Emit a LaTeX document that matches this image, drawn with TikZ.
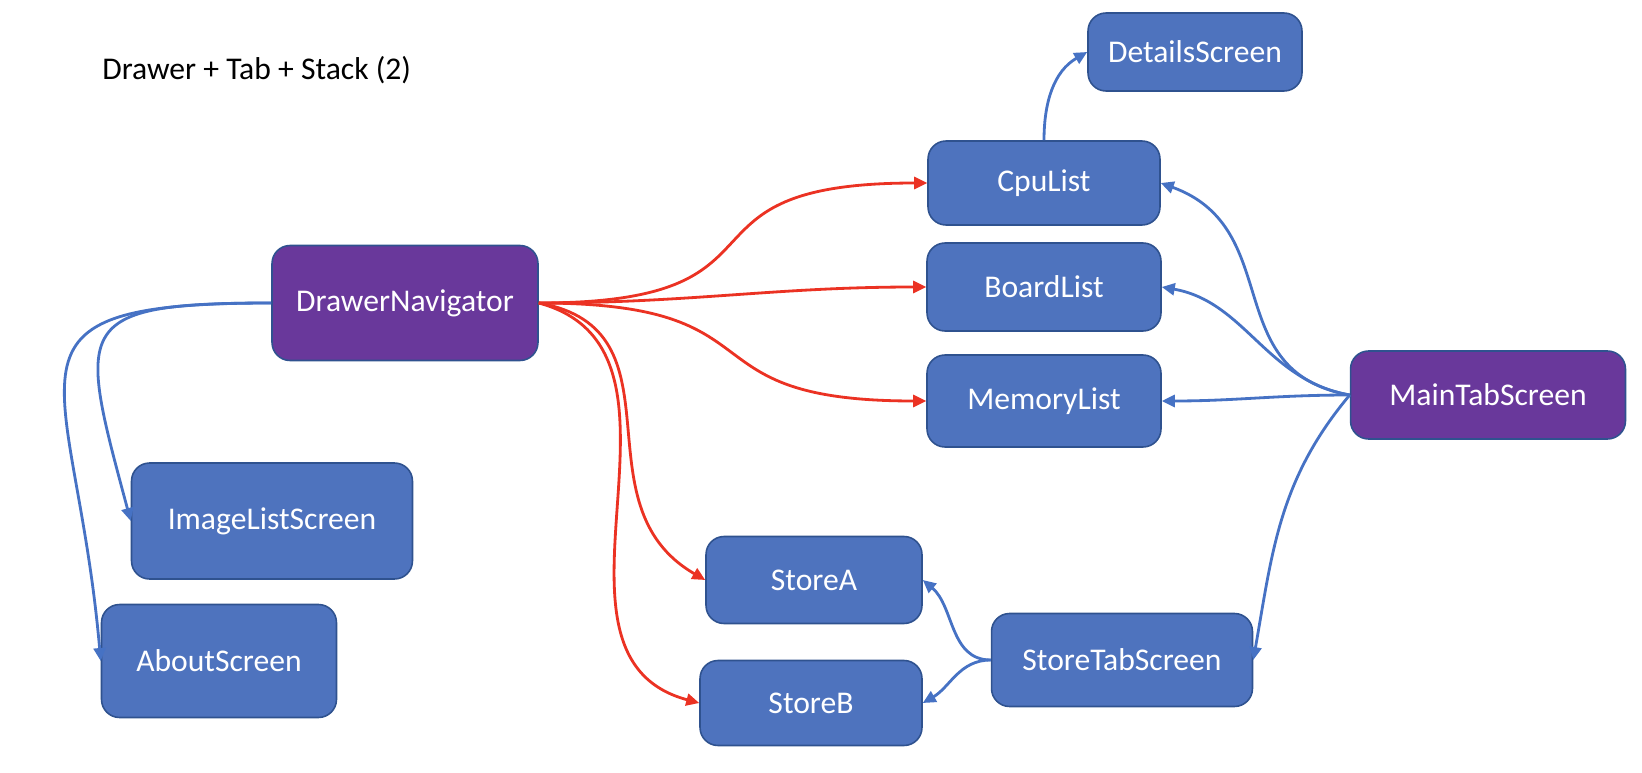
\documentclass[tikz,border=0pt]{standalone}
\usepackage{fontspec}
\setmainfont{Carlito}
\usetikzlibrary{positioning,arrows.meta}

\definecolor{boxblue}{RGB}{78,115,190}
\definecolor{boxedge}{RGB}{47,82,143}
\definecolor{navpurple}{RGB}{105,56,155}
\definecolor{linkred}{RGB}{235,50,35}
\definecolor{linkblue}{RGB}{70,114,196}

\begin{document}
\begin{tikzpicture}[
    x=0.02cm, y=0.02cm,
    screen/.style={rectangle, rounded corners=0.36cm, draw=boxedge, line width=0.9pt, fill=boxblue, text=white, align=center, font=\fontsize{18}{21}\selectfont},
    navigator/.style={screen, fill=navpurple},
    drawerlink/.style={-{Triangle[length=2.6mm,width=2.4mm]}, draw=linkred, line width=1.6pt},
    tablink/.style={-{Triangle[length=2.6mm,width=2.4mm]}, draw=linkblue, line width=1.6pt},
    title/.style={font=\fontsize{18}{21}\selectfont, text=black},
]
\useasboundingbox (0,0) rectangle (1642,772);

% ================== Title ==================
\node[title, anchor=west, inner sep=0pt] (caption) at (102,702) {Drawer + Tab + Stack (2)};

% ================== Navigators ==================
\node[navigator, minimum width=5.32cm, minimum height=2.30cm] (drawer) at (405,469) {DrawerNavigator};
\node[navigator, minimum width=5.50cm, minimum height=1.76cm] (mainTab) at (1488,377) {MainTabScreen};

% ================== Main tab stacks ==================
\node[screen, minimum width=4.64cm, minimum height=1.68cm] (cpuList) at (1044,589) {CpuList};
\node[screen, minimum width=4.68cm, minimum height=1.76cm] (boardList) at (1044,485) {BoardList};
\node[screen, minimum width=4.68cm, minimum height=1.84cm] (memoryList) at (1044,371) {MemoryList};
\node[screen, minimum width=4.28cm, minimum height=1.56cm] (details) at (1195,720) {DetailsScreen};

% ================== Store tab ==================
\node[screen, minimum width=5.22cm, minimum height=1.86cm] (storeTab) at (1122,112) {StoreTabScreen};
\node[screen, minimum width=4.32cm, minimum height=1.74cm] (storeA) at (814,192) {StoreA};
\node[screen, minimum width=4.44cm, minimum height=1.70cm] (storeB) at (811,69) {StoreB};

% ================== Drawer screens ==================
\node[screen, minimum width=5.62cm, minimum height=2.32cm] (imageList) at (272,251) {ImageListScreen};
\node[screen, minimum width=4.70cm, minimum height=2.26cm] (about) at (219,111) {AboutScreen};

% Drawer links
\draw[drawerlink] (drawer.east) to[out=0, in=180, looseness=1.7] (cpuList.west);
\draw[drawerlink] (drawer.east) to[out=0, in=180] (boardList.west);
\draw[drawerlink] (drawer.east) to[out=0, in=180, looseness=1.6] (memoryList.west);
\draw[drawerlink] (drawer.east) to[out=-10, in=150, looseness=1.2] (storeA.west);
\draw[drawerlink] (drawer.east) to[out=-15, in=165, looseness=1.1] (storeB.west);
\draw[tablink] (drawer.west) to[out=180, in=105, looseness=2] (imageList.west);
\draw[tablink] (drawer.west) to[out=180, in=95, looseness=1.9] (about.west);

% Tab links
\draw[tablink] (cpuList.north) to[out=90, in=210] (details.west);
\draw[tablink] (mainTab.west) to[out=170, in=-20, looseness=1.2] (cpuList.east);
\draw[tablink] (mainTab.west) to[out=170, in=-10] (boardList.east);
\draw[tablink] (mainTab.west) to[out=180, in=0] (memoryList.east);
\draw[tablink] (mainTab.west) to[out=230, in=80] (storeTab.east);
\draw[tablink] (storeTab.west) to[out=180, in=-40] (storeA.east);
\draw[tablink] (storeTab.west) to[out=180, in=30] (storeB.east);

\end{tikzpicture}
\end{document}
